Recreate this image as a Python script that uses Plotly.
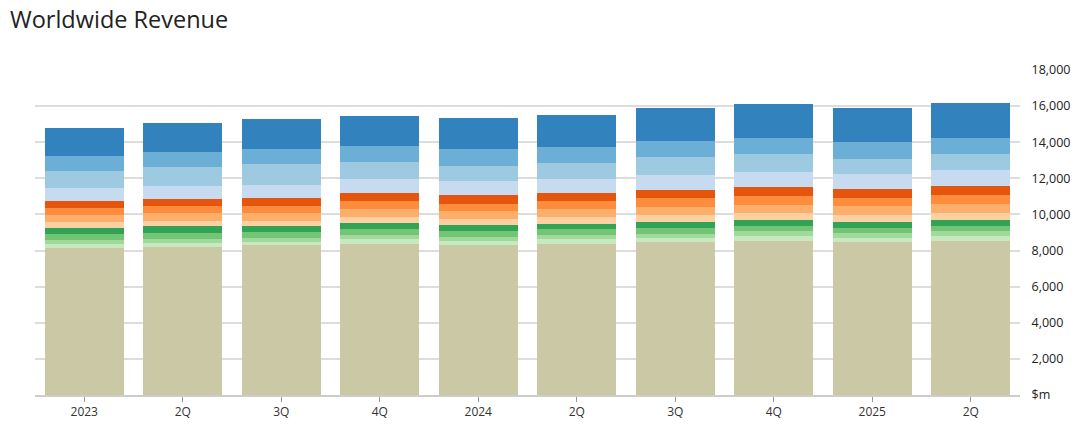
import plotly.graph_objects as go

categories = ["2023", "2Q", "3Q", "4Q", "2024", "2Q ", "3Q ", "4Q ", "2025", "2Q  "]
tick_labels = ["2023", "2Q", "3Q", "4Q", "2024", "2Q", "3Q", "4Q", "2025", "2Q"]

base = [8167, 8222, 8296, 8388, 8333, 8388, 8482, 8537, 8482, 8537]
green1 = [222, 222, 203, 277, 221, 277, 222, 278, 222, 278]
green2 = [222, 223, 222, 222, 222, 222, 222, 278, 278, 278]
green3 = [333, 333, 332, 332, 333, 332, 333, 277, 277, 277]
green4 = [278, 333, 333, 333, 332, 278, 334, 334, 334, 334]
orange1 = [334, 278, 277, 333, 333, 388, 389, 389, 389, 389]
orange2 = [389, 445, 443, 443, 443, 443, 444, 444, 500, 500]
orange3 = [389, 389, 388, 443, 388, 443, 500, 500, 444, 500]
orange4 = [389, 389, 444, 444, 499, 444, 445, 500, 500, 500]
blue1 = [722, 723, 720, 739, 721, 776, 833, 834, 834, 889]
blue2 = [945, 1056, 1109, 924, 886, 831, 1000, 1000, 833, 889]
blue3 = [833, 833, 831, 887, 887, 887, 889, 889, 945, 889]
blue4 = [1556, 1612, 1663, 1662, 1718, 1774, 1777, 1833, 1832, 1889]

series_names = ["Base", "Green 1", "Green 2", "Green 3", "Green 4",
                "Orange 1", "Orange 2", "Orange 3", "Orange 4",
                "Blue 1", "Blue 2", "Blue 3", "Blue 4"]
series_values = [base, green1, green2, green3, green4,
                 orange1, orange2, orange3, orange4,
                 blue1, blue2, blue3, blue4]
series_colors = ["#cbc8a6", "#c7e9c0", "#a1d99b", "#74c476", "#31a354",
                 "#fdd0a2", "#fdae6b", "#fd8d3c", "#e6550d",
                 "#c6dbef", "#9ecae1", "#6baed6", "#3182bd"]

y_ticks = list(range(0, 18001, 2000))
y_tick_text = ["$m"] + [f"{v:,}" for v in y_ticks[1:]]

fig = go.Figure()
for name, vals, col in zip(series_names, series_values, series_colors):
    fig.add_trace(go.Bar(x=categories, y=vals, name=name,
                         marker=dict(color=col, line=dict(width=0))))

fig.update_layout(
    barmode="stack",
    bargap=0.2,
    width=1084, height=433,
    margin=dict(l=35, r=64, t=70, b=38),
    paper_bgcolor="white", plot_bgcolor="white",
    showlegend=False,
    font=dict(family="Open Sans, sans-serif", size=12, color="#333"),
    title=dict(text="Worldwide Revenue", x=10/1084, xanchor="left",
               y=1 - 19.5/433, yanchor="middle", yref="container",
               font=dict(size=23.5, color="#222", family="Open Sans, sans-serif")),
    xaxis=dict(type="category", tickvals=categories, ticktext=tick_labels,
               showline=True, linecolor="#cccccc", linewidth=2,
               ticks="outside", ticklen=5, tickcolor="#999", tickwidth=1,
               showgrid=False, tickfont=dict(size=12, color="#333")),
    yaxis=dict(side="right", range=[0, 18000], tickvals=y_ticks, ticktext=y_tick_text,
               showgrid=True, gridcolor="#dddddd", gridwidth=2,
               zeroline=False, ticks="outside", ticklen=8, tickcolor="rgba(0,0,0,0)",
               tickwidth=1, tickfont=dict(size=12.5, color="#222")),
)

fig.write_html("out.html", config={"displayModeBar": False},
               post_script="document.body.style.margin='0';")
